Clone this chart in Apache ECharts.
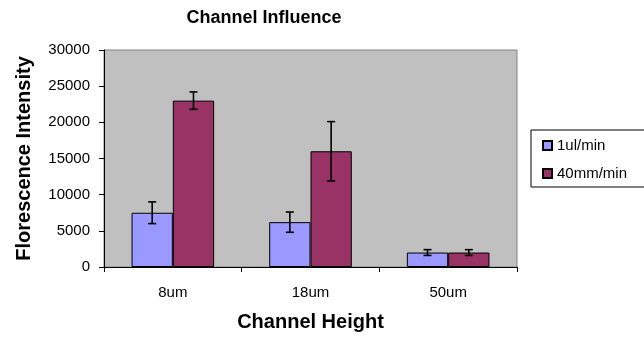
<!DOCTYPE html>
<html>
<head>
<meta charset="utf-8">
<script src="https://cdn.jsdelivr.net/npm/echarts@6/dist/echarts.min.js"></script>
<style>
  html, body { margin: 0; padding: 0; background: #fff; }
  #chart { width: 644px; height: 338px; }
</style>
</head>
<body>
<div id="chart"></div>
<script>
const categories = ['8um', '18um', '50um'];
const seriesNames = ['1ul/min', '40mm/min'];
const slowValues = [7500, 6200, 2000];
const slowErrors = [1500, 1400, 400];
const fastValues = [23000, 16000, 2000];
const fastErrors = [1200, 4100, 400];

const barColors = ['#9999ff', '#993366'];
const font = 'Arial, "Liberation Sans", sans-serif';

// error bar drawn at the centre of one of the two side-by-side bars
const errorBar = (values, errors, shift) => ({
  type: 'custom',
  silent: true,
  z: 5,
  data: values.map((v, i) => [i, v - errors[i], v + errors[i]]),
  renderItem: (params, api) => {
    const catW = api.size([1, 0])[0];
    const lo = api.coord([api.value(0), api.value(1)]);
    const hi = api.coord([api.value(0), api.value(2)]);
    const x = lo[0] + shift * catW;
    const cap = 4;
    const style = { stroke: '#000', lineWidth: 1.6 };
    return {
      type: 'group',
      children: [
        { type: 'line', shape: { x1: x, y1: lo[1], x2: x, y2: hi[1] }, style },
        { type: 'line', shape: { x1: x - cap, y1: lo[1], x2: x + cap, y2: lo[1] }, style },
        { type: 'line', shape: { x1: x - cap, y1: hi[1], x2: x + cap, y2: hi[1] }, style }
      ]
    };
  }
});

const chart = echarts.init(document.getElementById('chart'));
chart.setOption({
  animation: false,
  title: {
    text: 'Channel Influence',
    left: 259,
    textAlign: 'center',
    top: 4,
    textStyle: { fontFamily: font, fontSize: 18, fontWeight: 'bold', color: '#000' }
  },
  grid: {
    left: 104, right: 127, top: 50, bottom: 71,
    show: true, backgroundColor: '#c0c0c0', borderColor: '#808080', borderWidth: 1
  },
  graphic: [{
    type: 'rect',
    shape: { x: 531, y: 130, width: 125, height: 57 },
    style: { fill: '#fff', stroke: '#000', lineWidth: 1 },
    z: 0
  }],
  legend: {
    orient: 'vertical',
    left: 537,
    top: 133,
    itemWidth: 9,
    itemHeight: 9,
    itemGap: 13,
    icon: 'rect',
    data: seriesNames,
    textStyle: { fontFamily: font, fontSize: 15, color: '#000' },
    z: 10
  },
  xAxis: {
    type: 'category',
    data: categories,
    name: 'Channel Height',
    nameLocation: 'middle',
    nameGap: 45,
    nameTextStyle: { fontFamily: font, fontSize: 20, fontWeight: 'bold', color: '#000' },
    axisLine: { lineStyle: { color: '#000' } },
    axisTick: { show: true, length: 5, lineStyle: { color: '#000' } },
    axisLabel: { fontFamily: font, fontSize: 15, color: '#000', margin: 18 }
  },
  yAxis: {
    type: 'value',
    min: 0,
    max: 30000,
    interval: 5000,
    name: 'Florescence Intensity',
    nameLocation: 'middle',
    nameGap: 70,
    nameTextStyle: { fontFamily: font, fontSize: 20, fontWeight: 'bold', color: '#000' },
    axisLine: { show: true, lineStyle: { color: '#000' } },
    axisTick: { show: true, length: 5, lineStyle: { color: '#000' } },
    splitLine: { show: false },
    axisLabel: { fontFamily: font, fontSize: 15, color: '#000', margin: 14, formatter: v => String(v) }
  },
  series: [
    {
      name: seriesNames[0],
      type: 'bar',
      data: slowValues,
      barWidth: '30%',
      barGap: '0%',
      itemStyle: { color: barColors[0], borderColor: '#000', borderWidth: 1 }
    },
    {
      name: seriesNames[1],
      type: 'bar',
      data: fastValues,
      barWidth: '30%',
      barGap: '0%',
      itemStyle: { color: barColors[1], borderColor: '#000', borderWidth: 1 }
    },
    errorBar(slowValues, slowErrors, -0.15),
    errorBar(fastValues, fastErrors, 0.15)
  ]
});
</script>
</body>
</html>
